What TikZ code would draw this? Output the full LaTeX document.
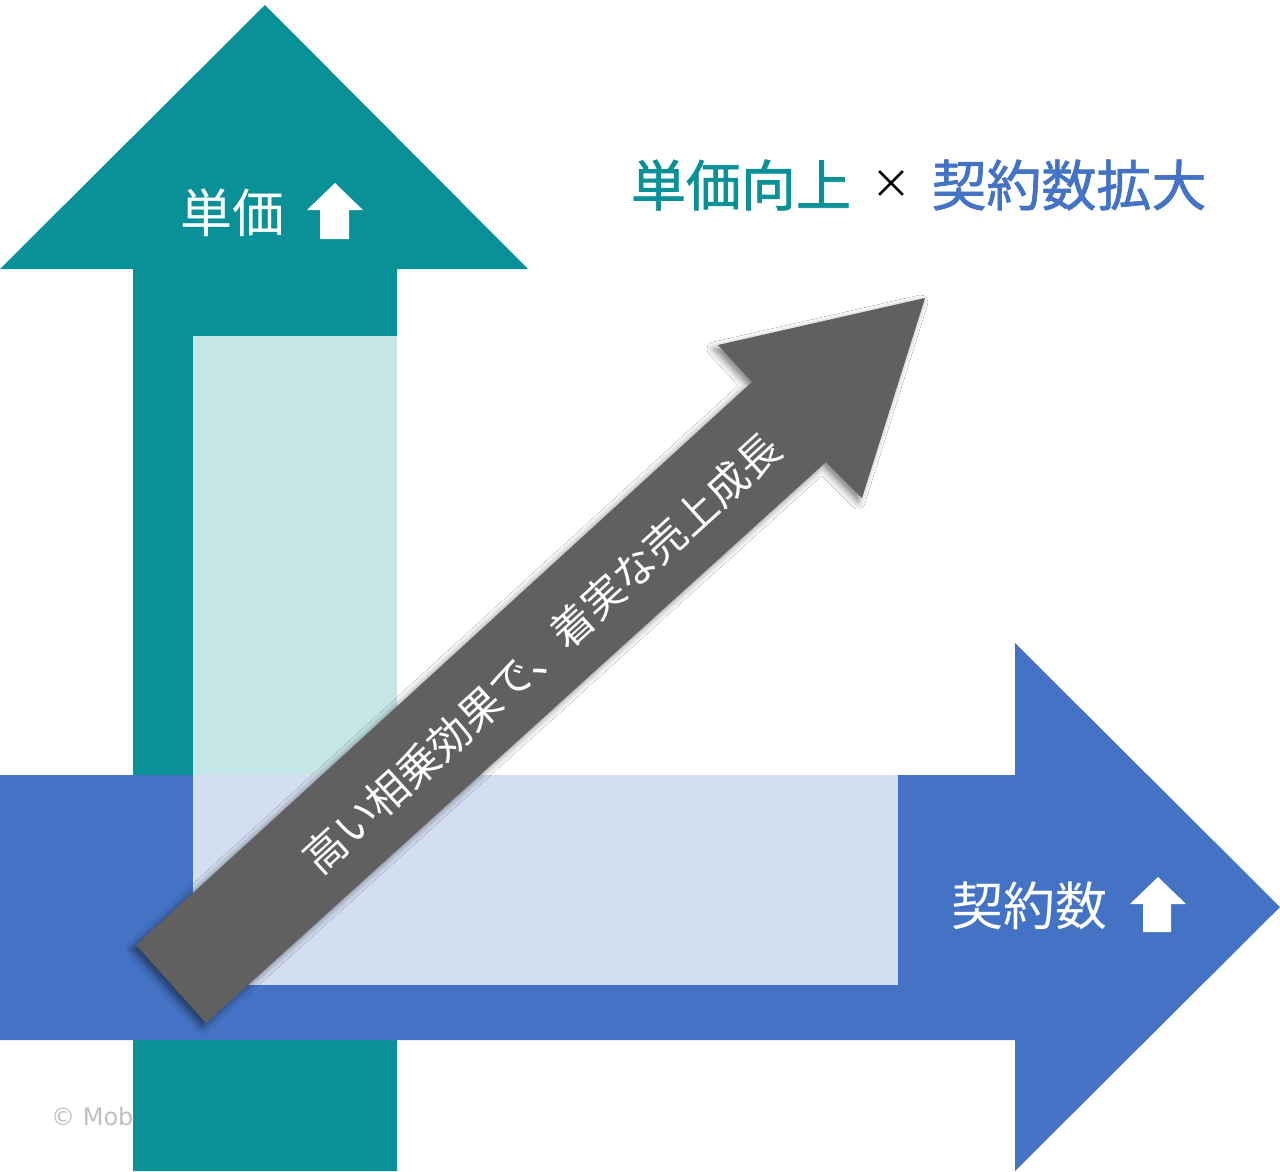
\documentclass[tikz,border=0pt]{standalone}
\usepackage{fontspec}
\setmainfont{Noto Sans CJK JP}
\newfontfamily\boldjp[FakeBold=1.2]{Noto Sans CJK JP}
\newfontfamily\markfont{DejaVu Sans}
\usetikzlibrary{shadows.blur}
\definecolor{tealarrow}{RGB}{10,145,152}
\definecolor{bluearrow}{RGB}{68,114,196}
\definecolor{grayarrow}{RGB}{96,96,96}
\tikzstyle{label}=[text=white, font=\fontsize{52}{56}\selectfont, inner sep=0pt]
\tikzstyle{uparrow}=[fill=white, draw=none]
\tikzstyle{title}=[font=\boldjp\fontsize{55}{60}\selectfont, inner sep=0pt]

\begin{document}
\begin{tikzpicture}[x=1pt, y=-1pt]

   \useasboundingbox[fill=white] (0,0) rectangle (1280,1171);

  \node[text=black!25, font=\markfont\fontsize{24}{28}\selectfont, anchor=west, inner sep=0pt] (mark) at (51,1117) {© Mob};

  % vertical and horizontal arrows
  \fill[tealarrow] (133,1171) -- (133,269) -- (0,269) -- (265,5) -- (528,269) -- (397,269) -- (397,1171) -- cycle;
  \fill[bluearrow] (0,775) -- (1015,775) -- (1015,643) -- (1280,907) -- (1015,1171) -- (1015,1040) -- (0,1040) -- cycle;
  \fill[white, opacity=0.77] (193,336) rectangle (898,985);

  % diagonal arrow
  \fill[grayarrow, blur shadow={shadow xshift=-4pt, shadow yshift=-4pt, shadow blur radius=7pt, shadow opacity=50}]
     (136,945) -- (752,382) -- (718,345) -- (925,298) -- (862,498) -- (826,462) -- (206,1023) -- cycle;
  \node[label, font=\fontsize{42}{46}\selectfont, rotate=42.3] (growth) at (542,653) {高い相乗効果で、着実な売上成長};

  \node[label] (price) at (232,213) {単価};
  \fill[uparrow] (307,210) -- (335,183) -- (363,210) -- (349,210) -- (349,239) -- (320,239) -- (320,210) -- cycle;

  \node[label] (contracts) at (1029,906) {契約数};
  \fill[uparrow] (1130,904) -- (1158,877) -- (1186,904) -- (1171,904) -- (1171,932) -- (1143,932) -- (1143,904) -- cycle;

  \node[title, text=tealarrow] (titleA) at (741,185) {単価向上};
  \node[font=\fontsize{40}{44}\selectfont, inner sep=0pt] (times) at (891,185) {×};
  \node[title, text=bluearrow] (titleB) at (1069,185) {契約数拡大};

\end{tikzpicture}
\end{document}
